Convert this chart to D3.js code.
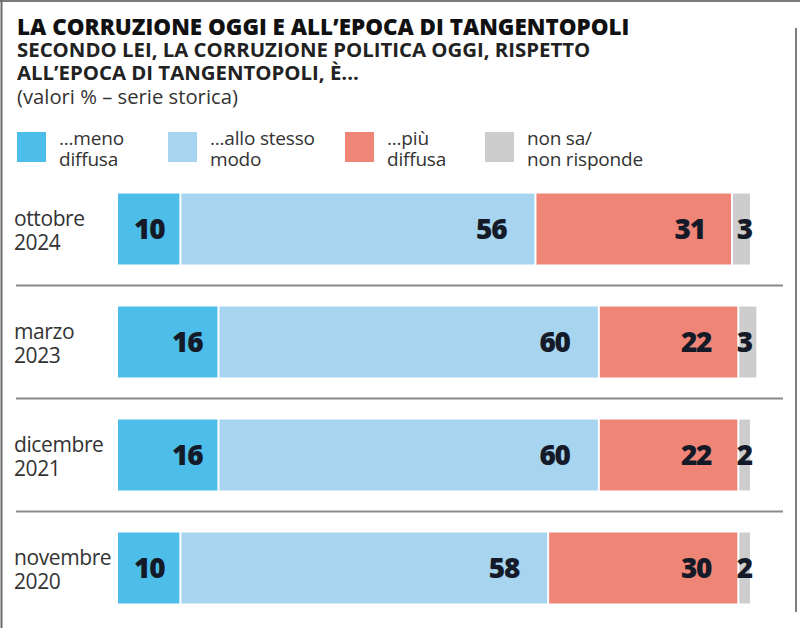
<!DOCTYPE html>
<html><head><meta charset="utf-8">
<script src="https://cdn.jsdelivr.net/npm/d3@7"></script>
<style>
html,body{margin:0;padding:0;background:#fff;}
svg{display:block;}
</style></head>
<body>
<script>
// ---- data ----
const periods = [["ottobre","2024"],["marzo","2023"],["dicembre","2021"],["novembre","2020"]];
const menoDiffusa = [10,16,16,10];
const alloStessoModo = [56,60,60,58];
const piuDiffusa = [31,22,22,30];
const nonSa = [3,3,2,2];
const seriesNames = ["...meno|diffusa","...allo stesso|modo","...più|diffusa","non sa/|non risponde"];
const seriesColors = ["#4dbde9","#a7d4ef","#ef8576","#cdcdcd"];
const titleText = "LA CORRUZIONE OGGI E ALL\u2019EPOCA DI TANGENTOPOLI";
const subtitleLines = ["SECONDO LEI, LA CORRUZIONE POLITICA OGGI, RISPETTO","ALL\u2019EPOCA DI TANGENTOPOLI, È..."];
const noteText = "(valori % \u2013 serie storica)";

const W=800,H=628;
const svg=d3.select("body").append("svg").attr("width",W).attr("height",H);

// frame
svg.append("line").attr("x1",0).attr("x2",W).attr("y1",1).attr("y2",1).attr("stroke","#7a7a7a").attr("stroke-width",2);
svg.append("line").attr("x1",1.5).attr("x2",1.5).attr("y1",0).attr("y2",H).attr("stroke","#6a6a6a").attr("stroke-width",2);
svg.append("line").attr("x1",796).attr("x2",796).attr("y1",28).attr("y2",612).attr("stroke","#555").attr("stroke-width",1.5);

// titles
function fit(sel,target){const w=sel.node().getComputedTextLength();const fs=parseFloat(sel.attr("font-size"));sel.attr("font-size",fs*target/w);return fs*target/w;}
const t=svg.append("text").attr("x",17).attr("y",35).attr("font-family","'Open Sans'").attr("font-weight",800).attr("font-size",19).attr("fill","#111").text(titleText);
fit(t,613);
const s1=svg.append("text").attr("x",17).attr("y",57).attr("font-family","'Open Sans'").attr("font-weight",700).attr("font-size",17).attr("fill","#222").text(subtitleLines[0]);
const sfs=fit(s1,574);
svg.append("text").attr("x",17).attr("y",80).attr("font-family","'Open Sans'").attr("font-weight",700).attr("font-size",sfs).attr("fill","#222").text(subtitleLines[1]);
const nt=svg.append("text").attr("x",17).attr("y",104).attr("font-family","'Open Sans'").attr("font-weight",400).attr("font-size",18).attr("fill","#333").text(noteText);
fit(nt,221);

// legend
const legX=[17,168,345,485];
const leg=svg.append("g");
seriesNames.forEach((n,i)=>{
  leg.append("rect").attr("x",legX[i]).attr("y",132).attr("width",29).attr("height",30).attr("fill",seriesColors[i]);
  const parts=n.split("|");
  parts.forEach((p,j)=>{
    leg.append("text").attr("x",legX[i]+42).attr("y",145+j*21).attr("font-family","'Open Sans'").attr("font-size",19).attr("fill","#333").attr("letter-spacing",-0.2).text(p);
  });
});

// scales
const x=d3.scaleLinear().domain([0,100]).range([118,752]);
const keys=periods.map(p=>p.join(" "));
const y=d3.scaleBand().domain(keys).range([172.5,624.5]).paddingInner(0.372).paddingOuter(0.186);

const rows=periods.map((p,i)=>({key:keys[i],label:p,vals:[menoDiffusa[i],alloStessoModo[i],piuDiffusa[i],nonSa[i]]}));

// separators
rows.slice(0,-1).forEach(r=>{
  const yy=y(r.key)+y.bandwidth()+(y.step()-y.bandwidth())/2;
  svg.append("line").attr("x1",16).attr("x2",783).attr("y1",yy).attr("y2",yy).attr("stroke","#8a8a8a").attr("stroke-width",2);
});

const g=svg.append("g");
rows.forEach(r=>{
  let cum=0;
  const segs=r.vals.map((v,i)=>{const s={i,v,x0:cum,x1:cum+v};cum+=v;return s;});
  const row=g.append("g");
  row.selectAll("rect").data(segs).join("rect")
    .attr("x",d=>x(d.x0)).attr("y",y(r.key))
    .attr("width",d=>Math.max(0,x(d.x1)-x(d.x0)-2)).attr("height",y.bandwidth())
    .attr("fill",d=>seriesColors[d.i]);
  const cy=y(r.key)+y.bandwidth()/2;
  const off=[17,30,28];
  row.selectAll("text.v").data(segs).join("text").attr("class","v")
    .attr("x",d=>d.i<3?x(d.x1)-off[d.i]:x.range()[1])
    .attr("y",cy+10)
    .attr("text-anchor","end")
    .attr("font-family","'Open Sans'").attr("font-weight",800).attr("font-size",28)
    .attr("letter-spacing",-1.2)
    .attr("fill","#141a28").text(d=>d.v);
  r.label.forEach((l,j)=>{
    svg.append("text").attr("x",14).attr("y",cy-3+j*24).attr("font-family","'Open Sans'").attr("font-size",21).attr("fill","#333").attr("letter-spacing",-0.4).text(l);
  });
});
</script>
</body></html>
